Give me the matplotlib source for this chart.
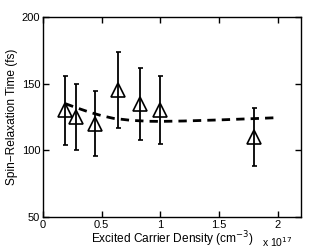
import matplotlib
matplotlib.use('Agg')
from matplotlib import pyplot as plt

plt.rcParams['font.family'] = ['Liberation Sans', 'DejaVu Sans']
plt.rcParams['font.size'] = 8

# density in units of 1e17 cm^-3
density = [0.19, 0.28, 0.44, 0.64, 0.83, 1.0, 1.8]
tau = [130, 125, 120, 145.5, 135, 130, 110]
err_low = [26, 25, 24, 28.5, 27, 25.5, 22]
err_high = [26, 25, 24.5, 28.5, 27, 26, 22]

# model curve (dashed)
fit_x = [0.19, 0.3, 0.4, 0.5, 0.6, 0.75, 0.9, 1.0, 1.2, 1.5, 1.8, 2.0]
fit_y = [135, 131.5, 128.5, 126, 124, 122.5, 121.8, 121.7, 122, 122.8, 123.8, 124.5]

fig = plt.figure(figsize=(3.32, 2.5), dpi=100)
ax = fig.add_axes([0.1295, 0.132, 0.777, 0.8])

ax.plot(fit_x, fit_y, 'k--', lw=2, dashes=(3, 2.2))
ax.errorbar(density, tau, yerr=[err_low, err_high], fmt='^', color='k',
            mfc='none', mec='k', ms=10.5, mew=1.2, elinewidth=1.3,
            capsize=1.8, capthick=1.3)

ax.set_xlim(0, 2.2)
ax.set_ylim(50, 200)
ax.set_xticks([0, 0.5, 1, 1.5, 2])
ax.set_xticklabels(['0', '0.5', '1', '1.5', '2'])
ax.set_yticks([50, 100, 150, 200])
ax.tick_params(direction='in', top=True, right=True, length=4, width=1, pad=2)
for s in ax.spines.values():
    s.set_linewidth(1)

xl = ax.set_xlabel(r'Excited Carrier Density (cm$^{-3}$)', fontsize=8.6)
xl.set_va('center')
ax.xaxis.set_label_coords(0.5, -0.113)
yl = ax.set_ylabel('Spin\u2212Relaxation Time (fs)', fontsize=8.6)
yl.set_va('center')
ax.yaxis.set_label_coords(-0.12, 0.5)
fig.text(0.79, 0.03, r'x 10$^{17}$', fontsize=7.5, va='center')

fig.savefig('out.png', dpi=100)
